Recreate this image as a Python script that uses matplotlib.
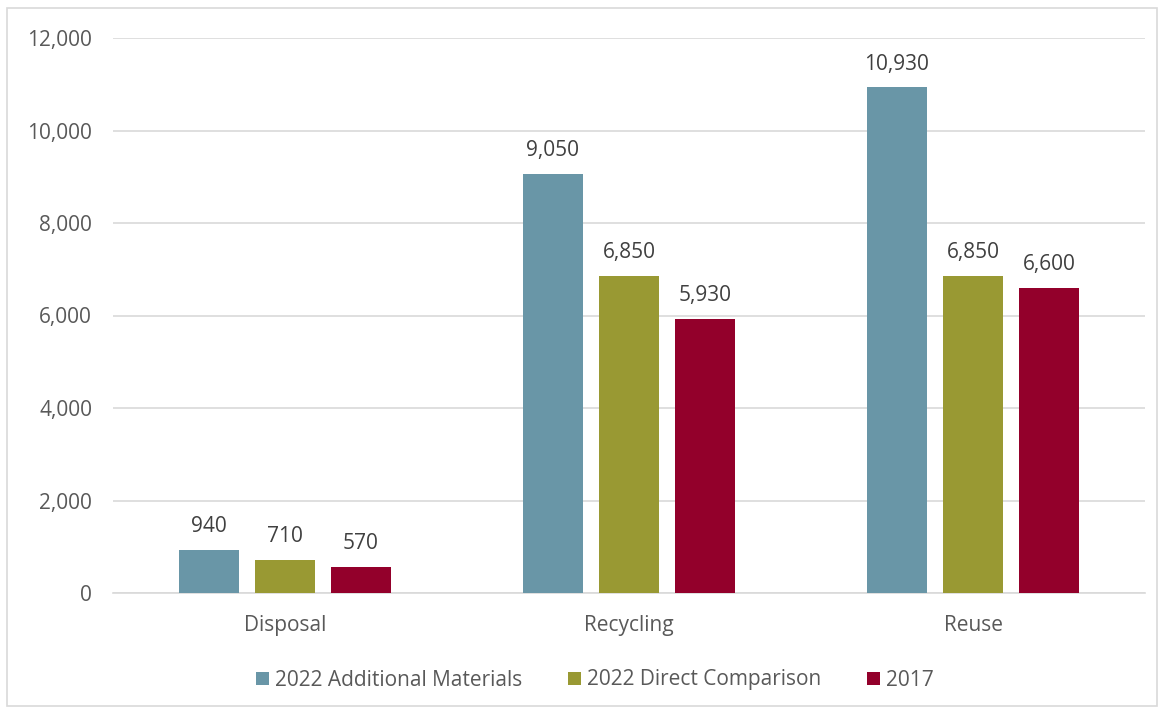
import matplotlib.pyplot as plt
import numpy as np
from matplotlib.patches import Rectangle

# categories and series
categories = ["Disposal", "Recycling", "Reuse"]
additional = [940, 9050, 10930]
direct = [710, 6850, 6850]
y2017 = [570, 5930, 6600]
series_names = ["2022 Additional Materials", "2022 Direct Comparison", "2017"]
colors = ["#6996A7", "#999933", "#93002B"]

plt.rcParams['font.family'] = ['Open Sans', 'DejaVu Sans']

fig = plt.figure(figsize=(11.65, 7.13), dpi=100)
ax = fig.add_axes([113/1165, 1 - 593/713, 1032/1165, 555/713])

x = np.arange(len(categories))
width = 0.174
offset = 0.221
for i, (vals, name, col) in enumerate(zip([additional, direct, y2017], series_names, colors)):
    pos = x + (i - 1) * offset
    ax.bar(pos, vals, width=width, color=col, label=name, zorder=3)
    for p, v in zip(pos, vals):
        ax.text(p, v + 280, f"{v:,}", ha='center', va='bottom', fontsize=15, color='#404040')

ax.set_xlim(-0.5, 2.5)
ax.set_ylim(0, 12000)
ax.set_yticks(range(0, 12001, 2000))
ax.set_yticklabels([f"{v:,}" for v in range(0, 12001, 2000)])
ax.set_xticks(x)
ax.set_xticklabels(categories)
ax.tick_params(axis='both', length=0, labelsize=15, labelcolor='#595959')
ax.tick_params(axis='y', pad=15)
ax.tick_params(axis='x', pad=16)
ax.grid(axis='y', color='#D9D9D9', linewidth=1.2, zorder=0)
for s in ['top', 'right', 'left']:
    ax.spines[s].set_visible(False)
ax.spines['bottom'].set_color('#D9D9D9')
ax.spines['bottom'].set_linewidth(1.2)

leg = fig.legend(loc='center', bbox_to_anchor=(595/1165, 1 - 680/713), ncol=3, frameon=False,
                 fontsize=15, handlelength=0.6, handleheight=0.6, handletextpad=0.3, columnspacing=2.2)
for t in leg.get_texts():
    t.set_color('#595959')

fig.patches.append(Rectangle((7/1165, 1 - 706/713), 1150/1165, 698/713, transform=fig.transFigure,
                             fill=False, edgecolor='#D9D9D9', linewidth=1.2))

fig.savefig("out.png", dpi=100, facecolor='white')
